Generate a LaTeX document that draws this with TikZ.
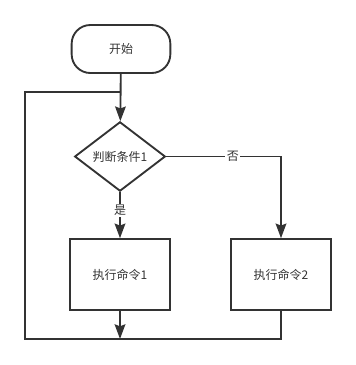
\documentclass[tikz,border=0pt]{standalone}
\usepackage{fontspec}
\setmainfont{Noto Sans CJK SC}
\usepackage{xcolor}
\usetikzlibrary{arrows.meta,positioning,shapes.geometric}
\definecolor{ink}{HTML}{333333}
\tikzset{
  term/.style={rectangle,rounded corners=14pt,draw=ink,line width=1.4pt,minimum width=74pt,minimum height=36pt,font=\fontsize{9}{10}\selectfont,text=ink},
  cnd/.style={diamond,draw=ink,line width=1.4pt,inner sep=0pt,minimum width=68pt,minimum height=52pt,font=\fontsize{9}{10}\selectfont,text=ink},
  proc/.style={rectangle,draw=ink,line width=1.4pt,minimum width=75pt,minimum height=53pt,font=\fontsize{9}{10}\selectfont,text=ink},
  lbl/.style={fill=white,inner sep=1pt,font=\fontsize{9}{10}\selectfont,text=ink},
  ln/.style={draw=ink,line width=1.4pt},
  arr/.style={ln,-{Stealth[length=11pt,width=8pt,inset=1.5pt]}},
}
\begin{document}
\begin{tikzpicture}[x=0.75pt,y=-0.75pt]
  \useasboundingbox (0,0) rectangle (356,365);
  \node[term] (start) at (121,49){开始};
  \node[cnd] (cond) at (120,156.5){判断条件1};
  \node[proc] (cmd1) at (120,274.5){执行命令1};
  \node[proc] (cmd2) at (281,274.5){执行命令2};
  \coordinate (jn) at (120,92);
  \coordinate (lb) at (25,339);
  \draw[arr] (start) -- (cond);
  \draw[arr] (cond) -- node[lbl,pos=0.4]{是} (cmd1);
  \draw[arr] (cond.east) -| node[lbl,pos=0.29]{否} (cmd2.north);
  \draw[arr] (cmd1) -- (cmd1.south |- lb);
  \draw[ln] (cmd2.south) |- (lb) |- (jn);
\end{tikzpicture}
\end{document}
